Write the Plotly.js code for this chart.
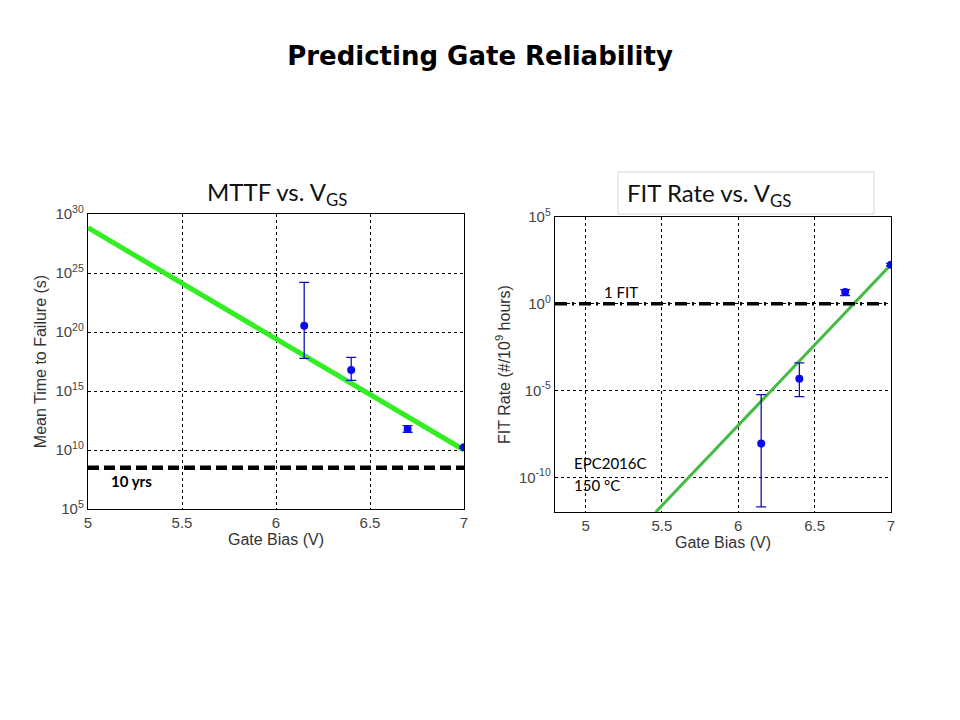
<!DOCTYPE html>
<html>
<head>
<meta charset="utf-8">
<script src="https://cdn.plot.ly/plotly-3.0.1.min.js"></script>
<style>html,body{margin:0;padding:0;background:#fff}#chart{width:960px;height:720px}</style>
</head>
<body>
<div id="chart"></div>
<script>
// ---- Left panel: MTTF vs VGS ----
const mttfBias = [6.15, 6.4, 6.7, 7.0];
const mttfValue = [3.4e20, 6.0e16, 6.0e11, 1.7e10];
const mttfUpper = [1.6e24, 7.0e17, 1.15e12, 2.0e10];
const mttfLower = [5.9e17, 8.0e15, 3.2e11, 1.45e10];
const mttfFitBias = [5.0, 7.0];
const mttfFitValue = [6.9e28, 1.0e10];
const tenYearsSeconds = 3.15e8;
const mttfTickVals = [1e5, 1e10, 1e15, 1e20, 1e25, 1e30];
const mttfTickText = ['10<sup>5</sup>', '10<sup>10</sup>', '10<sup>15</sup>', '10<sup>20</sup>', '10<sup>25</sup>', '10<sup>30</sup>'];

// ---- Right panel: FIT rate vs VGS ----
const fitBias = [6.15, 6.4, 6.7, 7.0];
const fitValue = [8.9e-9, 4.7e-5, 4.7e0, 1.8e2];
const fitUpper = [5.8e-6, 3.9e-4, 6.6e0, 2.1e2];
const fitLower = [2.0e-12, 4.4e-6, 3.0e0, 1.55e2];
const fitLineBias = [5.46, 7.0];
const fitLineValue = [1e-12, 1.8e2];
const oneFit = 1;
const fitTickVals = [1e-10, 1e-5, 1e0, 1e5];
const fitTickText = ['10<sup>-10</sup>', '10<sup>-5</sup>', '10<sup>0</sup>', '10<sup>5</sup>'];

const xTicks = [5, 5.5, 6, 6.5, 7];
const xTickText = ['5', '5.5', '6', '6.5', '7'];

function plus(v, u) { return u.map((x, i) => x - v[i]); }
function minus(v, l) { return l.map((x, i) => v[i] - x); }

const green1 = '#33ee22';
const green2 = '#44bb44';
const blue = '#0a0aee';

const traces = [
  {x: mttfFitBias, y: mttfFitValue, xaxis: 'x', yaxis: 'y', mode: 'lines',
   line: {color: green1, width: 5}, hoverinfo: 'skip'},
  {x: [5, 7], y: [tenYearsSeconds, tenYearsSeconds], xaxis: 'x', yaxis: 'y', mode: 'lines',
   line: {color: '#000', width: 4.5, dash: '11px,5px'}},
  {x: mttfBias, y: mttfValue, xaxis: 'x', yaxis: 'y', mode: 'markers',
   marker: {color: blue, size: 8},
   error_y: {type: 'data', symmetric: false, array: plus(mttfValue, mttfUpper),
             arrayminus: minus(mttfValue, mttfLower), color: '#1111bb', thickness: 1.3, width: 5}},
  {x: fitLineBias, y: fitLineValue, xaxis: 'x2', yaxis: 'y2', mode: 'lines',
   line: {color: green2, width: 3}},
  {x: [4.8, 7], y: [oneFit, oneFit], xaxis: 'x2', yaxis: 'y2', mode: 'lines',
   line: {color: '#000', width: 3.5, dash: '12px,5px,2px,5px'}},
  {x: fitBias, y: fitValue, xaxis: 'x2', yaxis: 'y2', mode: 'markers',
   marker: {color: blue, size: 8},
   error_y: {type: 'data', symmetric: false, array: plus(fitValue, fitUpper),
             arrayminus: minus(fitValue, fitLower), color: '#1111bb', thickness: 1.3, width: 5}}
];

const tickFont = {family: 'Liberation Sans, Arial, sans-serif', size: 15, color: '#444'};
const axTitleFont = {family: 'Liberation Sans, Arial, sans-serif', size: 16, color: '#333'};

function xAxis(domain, range, anchor) {
  return {domain: domain, range: range, anchor: anchor, tickvals: xTicks, ticktext: xTickText,
    showline: true, mirror: true, linecolor: '#000', linewidth: 1.2,
    showgrid: true, gridcolor: '#000', griddash: '3px,3px', gridwidth: 1,
    zeroline: false, ticks: '', tickfont: tickFont,
    title: {text: 'Gate Bias (V)', font: axTitleFont, standoff: 0}};
}
function yAxis(domain, range, anchor, vals, text, title) {
  return {domain: domain, type: 'log', range: range, anchor: anchor, tickvals: vals, ticktext: text,
    showline: true, mirror: true, linecolor: '#000', linewidth: 1.2,
    showgrid: true, gridcolor: '#000', griddash: '3px,3px', gridwidth: 1,
    zeroline: false, ticks: '', tickfont: tickFont,
    title: {text: title, font: axTitleFont, standoff: 4}};
}

const layout = {
  width: 960, height: 720,
  margin: {l: 0, r: 0, t: 0, b: 0},
  paper_bgcolor: '#fff', plot_bgcolor: '#fff',
  showlegend: false,
  title: {text: '<b>Predicting Gate Reliability</b>', x: 0.5, xanchor: 'center',
          y: 1 - 56 / 720, yanchor: 'middle',
          font: {family: 'DejaVu Sans, Verdana, sans-serif', size: 26, color: '#000'}},
  xaxis: xAxis([88 / 960, 464 / 960], [5, 7], 'y'),
  yaxis: yAxis([1 - 509 / 720, 1 - 214 / 720], [5, 30], 'x', mttfTickVals, mttfTickText, 'Mean Time to Failure (s)'),
  xaxis2: xAxis([555 / 960, 891 / 960], [4.8, 7], 'y2'),
  yaxis2: yAxis([1 - 512 / 720, 1 - 217 / 720], [-12, 5], 'x2', fitTickVals, fitTickText, 'FIT Rate (#/10<sup>9</sup> hours)'),
  shapes: [
    {type: 'rect', xref: 'paper', yref: 'paper', x0: 618 / 960, x1: 874 / 960,
     y0: 1 - 214 / 720, y1: 1 - 172 / 720, line: {color: '#d8d8d8', width: 1}, fillcolor: 'rgba(0,0,0,0)'}
  ],
  annotations: [
    {xref: 'paper', yref: 'paper', x: 277 / 960, y: 1 - 194 / 720, xanchor: 'center', yanchor: 'middle',
     text: 'MTTF vs. V<sub>GS</sub>', showarrow: false,
     font: {family: 'Lato, Open Sans, sans-serif', size: 24, color: '#111'}},
    {xref: 'paper', yref: 'paper', x: 625 / 960, y: 1 - 195 / 720, xanchor: 'left', yanchor: 'middle',
     text: 'FIT Rate vs. V<sub>GS</sub>', showarrow: false,
     font: {family: 'Lato, Open Sans, sans-serif', size: 24, color: '#111'}},
    {xref: 'paper', yref: 'paper', x: 109 / 960, y: 1 - 481 / 720, xanchor: 'left', yanchor: 'middle',
     text: '<b>10 yrs</b>', showarrow: false,
     font: {family: 'Lato, Open Sans, sans-serif', size: 15, color: '#000'}},
    {xref: 'paper', yref: 'paper', x: 602 / 960, y: 1 - 292 / 720, xanchor: 'left', yanchor: 'middle',
     text: '1 FIT', showarrow: false,
     font: {family: 'Lato, Open Sans, sans-serif', size: 15, color: '#000'}},
    {xref: 'paper', yref: 'paper', x: 572 / 960, y: 1 - 463 / 720, xanchor: 'left', yanchor: 'middle',
     text: 'EPC2016C', showarrow: false,
     font: {family: 'Lato, Open Sans, sans-serif', size: 15, color: '#000'}},
    {xref: 'paper', yref: 'paper', x: 572 / 960, y: 1 - 485 / 720, xanchor: 'left', yanchor: 'middle',
     text: '150 °C', showarrow: false,
     font: {family: 'Lato, Open Sans, sans-serif', size: 15, color: '#000'}}
  ]
};

Plotly.newPlot('chart', traces, layout, {displayModeBar: false, staticPlot: true});
</script>
</body>
</html>
